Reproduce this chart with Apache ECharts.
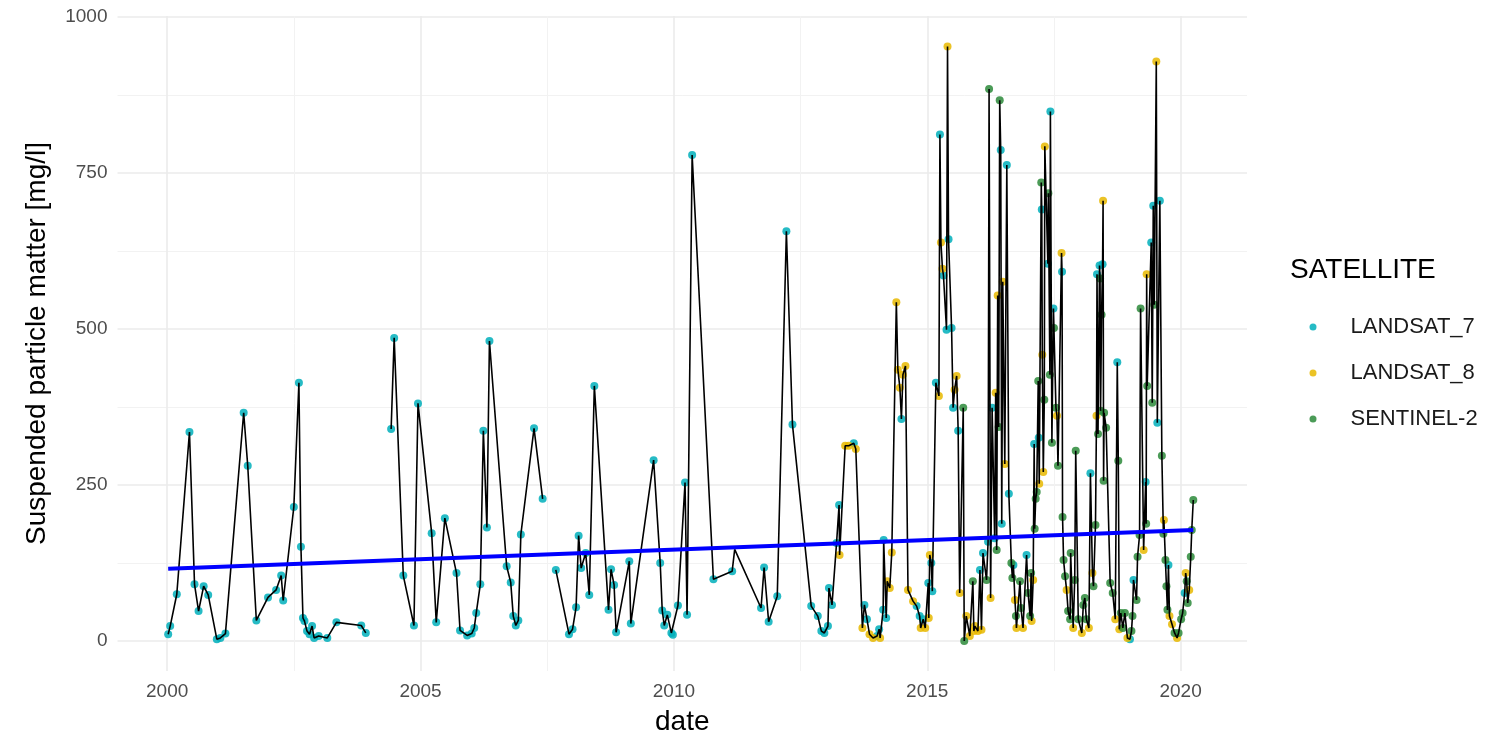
<!DOCTYPE html>
<html>
<head>
<meta charset="UTF-8">
<title>SPM</title>
<script src="https://cdn.jsdelivr.net/npm/echarts@6/dist/echarts.min.js"></script>
<style>
  html, body { margin: 0; padding: 0; background: #fff; }
  #chart { width: 1506px; height: 741px; }
</style>
</head>
<body>
<div id="chart"></div>
<script>
// decimal year, value [mg/l], satellite ('L7','L8','S2'; '' = line vertex only)
// null value = break in the line
var dates = [
  2000.02, 2000.06, 2000.19, 2000.44, 2000.54, 2000.62, 2000.72, 2000.81, 2000.98, 2001.05,
  2001.15, 2001.51, 2001.59, 2001.76, 2001.99, 2002.15, 2002.25, 2002.29, 2002.50, 2002.60,
  2002.64, 2002.68, 2002.71, 2002.76, 2002.81, 2002.86, 2002.90, 2002.99, 2003.16, 2003.34,
  2003.83, 2003.92, 2004.20, 2004.42, 2004.48, 2004.66, 2004.87, 2004.95, 2005.22, 2005.31,
  2005.48, 2005.71, 2005.78, 2005.92, 2006.01, 2006.06, 2006.10, 2006.18, 2006.24, 2006.31,
  2006.36, 2006.70, 2006.78, 2006.83, 2006.88, 2006.93, 2006.98, 2007.24, 2007.41, 2007.55,
  2007.67, 2007.93, 2008.00, 2008.07, 2008.12, 2008.17, 2008.26, 2008.33, 2008.43, 2008.71,
  2008.76, 2008.82, 2008.86, 2009.12, 2009.15, 2009.60, 2009.73, 2009.77, 2009.81, 2009.87,
  2009.95, 2009.98, 2010.08, 2010.22, 2010.26, 2010.36, 2010.78, 2011.15, 2011.20, 2011.72,
  2011.78, 2011.87, 2012.04, 2012.22, 2012.34, 2012.71, 2012.84, 2012.91, 2012.97, 2013.04,
  2013.06, 2013.12, 2013.21, 2013.26, 2013.27, 2013.38, 2013.45, 2013.55, 2013.59, 2013.72,
  2013.76, 2013.81, 2013.86, 2013.93, 2014.01, 2014.05, 2014.07, 2014.13, 2014.14, 2014.19,
  2014.21, 2014.26, 2014.30, 2014.39, 2014.42, 2014.46, 2014.49, 2014.52, 2014.57, 2014.62,
  2014.72, 2014.79, 2014.85, 2014.87, 2014.92, 2014.96, 2015.02, 2015.03, 2015.05, 2015.08,
  2015.10, 2015.17, 2015.23, 2015.25, 2015.27, 2015.30, 2015.32, 2015.38, 2015.40, 2015.42,
  2015.48, 2015.51, 2015.54, 2015.58, 2015.61, 2015.64, 2015.71, 2015.73, 2015.77, 2015.84,
  2015.90, 2015.92, 2015.94, 2016.00, 2016.04, 2016.07, 2016.10, 2016.17, 2016.20, 2016.22,
  2016.25, 2016.28, 2016.33, 2016.35, 2016.37, 2016.39, 2016.41, 2016.43, 2016.45, 2016.47,
  2016.49, 2016.53, 2016.57, 2016.61, 2016.66, 2016.68, 2016.70, 2016.73, 2016.75, 2016.76,
  2016.83, 2016.85, 2016.89, 2016.96, 2016.99, 2017.03, 2017.05, 2017.06, 2017.09, 2017.11,
  2017.12, 2017.14, 2017.16, 2017.19, 2017.20, 2017.21, 2017.25, 2017.26, 2017.27, 2017.29,
  2017.31, 2017.32, 2017.38, 2017.39, 2017.42, 2017.43, 2017.46, 2017.49, 2017.50, 2017.54,
  2017.56, 2017.58, 2017.65, 2017.66, 2017.67, 2017.69, 2017.72, 2017.75, 2017.78, 2017.82,
  2017.83, 2017.88, 2017.91, 2017.93, 2017.98, 2018.05, 2018.08, 2018.11, 2018.14, 2018.19,
  2018.22, 2018.26, 2018.28, 2018.32, 2018.34, 2018.35, 2018.37, 2018.40, 2018.41, 2018.42,
  2018.44, 2018.46, 2018.47, 2018.48, 2018.49, 2018.53, 2018.61, 2018.66, 2018.71, 2018.75,
  2018.77, 2018.79, 2018.82, 2018.86, 2018.90, 2018.95, 2019.00, 2019.03, 2019.05, 2019.07,
  2019.13, 2019.15, 2019.19, 2019.21, 2019.27, 2019.31, 2019.32, 2019.33, 2019.34, 2019.42,
  2019.44, 2019.46, 2019.48, 2019.52, 2019.54, 2019.59, 2019.63, 2019.66, 2019.67, 2019.70,
  2019.72, 2019.74, 2019.76, 2019.78, 2019.83, 2019.88, 2019.93, 2019.96, 2020.01, 2020.04,
  2020.08, 2020.10, 2020.12, 2020.14, 2020.17, 2020.20, 2020.22, 2020.25
];
var values = [
  11, 24, 75, 335, 91, 48, 88, 74, 3, 5,
  12, 366, 281, 33, 70, 82, 105, 65, 215, 414,
  151, 37, 32, 16, 11, 24, 5, 8, 5, 30,
  25, 13, null, 340, 486, 105, 25, 381, 173, 30,
  197, 109, 17, 9, 12, 21, 45, 91, 337, 182,
  481, 120, 94, 40, 25, 33, 171, 341, 228, null,
  114, 11, 19, 54, 169, 117, 141, 74, 409, 50,
  115, 90, 14, 128, 28, 290, 125, 49, 25, 42,
  13, 10, 57, 254, 42, 779, 99, 112, 147, 53,
  118, 31, 72, 657, 347, 56, 40, 16, 13, 24,
  85, 58, 157, 218, 138, 313, 313, 317, 308, 21,
  58, 35, 11, 5, 8, 19, 5, 50, 162, 37,
  96, 85, 142, 543, 435, 406, 356, 427, 441, 82,
  64, 56, 40, 21, 35, 21, 93, 37, 138, 125,
  80, 414, 393, 812, 639, 597, 586, 499, 953, 644,
  502, 374, 403, 425, 337, 77, 374, 0, 40, 8,
  96, 16, 24, 16, 114, 18, 141, 98, 159, 885,
  69, 374, 165, 398, 146, 554, 343, 867, 787, 188,
  576, 284, 763, 236, 125, 101, 122, 66, 40, 21,
  96, 53, 21, 138, 77, 40, 109, 32, 98, 316,
  180, 228, 239, 417, 326, 252, 735, 692, 459, 271,
  387, 793, 605, 718, 427, 849, 318, 533, 502, 374,
  361, 281, 622, 592, 199, 130, 104, 82, 48, 35,
  141, 21, 98, 305, 35, 13, 58, 69, 35, 21,
  269, 109, 88, 186, 361, 588, 332, 602, 581, 369,
  523, 604, 706, 257, 366, 342, 93, 77, 35, 447,
  289, 19, 45, 21, 45, 5, 3, 16, 40, 98,
  66, 135, 170, 533, 146, 255, 188, 588, 409, 639,
  382, 698, 539, 929, 350, 706, 297, 172, 194, 130,
  88, 50, 122, 40, 27, 13, 5, 13, 35, 45,
  77, 109, 96, 61, 82, 135, 178, 226
];
var sats = [
  'L7','L7','L7','L7','L7','L7','L7','L7','L7','L7',
  'L7','L7','L7','L7','L7','L7','L7','L7','L7','L7',
  'L7','L7','L7','L7','L7','L7','L7','L7','L7','L7',
  'L7','L7','',  'L7','L7','L7','L7','L7','L7','L7',
  'L7','L7','L7','L7','L7','L7','L7','L7','L7','L7',
  'L7','L7','L7','L7','L7','L7','L7','L7','L7','',
  'L7','L7','L7','L7','L7','L7','L7','L7','L7','L7',
  'L7','L7','L7','L7','L7','L7','L7','L7','L7','L7',
  'L7','L7','L7','L7','L7','L7','L7','L7','',  'L7',
  'L7','L7','L7','L7','L7','L7','L7','L7','L7','L7',
  'L7','L7','L7','L7','L8','L8','L8','L7','L8','L8',
  'L7','L7','L8','L8','L7','L7','L8','L7','L7','L7',
  'L8','L8','L8','L8','L8','L8','L7','L8','L8','L8',
  'L8','L7','L7','L8','L7','L8','L7','L8','L8','L7',
  'L7','L7','L8','L7','L8','L8','L7','L7','L8','L7',
  'L7','L7','L8','L8','L7','L8','S2','S2','L8','L8',
  'S2','L8','L8','L8','L7','L8','L7','S2','L7','S2',
  'L8','L7','L7','L8','S2','L8','S2','S2','L7','L7',
  'L8','L8','L7','L7','S2','S2','L7','L8','S2','L8',
  'S2','S2','L8','L7','S2','S2','S2','L8','L8','L7',
  'S2','S2','S2','S2','L7','L8','S2','L7','L8','L8',
  'S2','L8','L7','S2','S2','L7','S2','L7','S2','S2',
  'L8','S2','L8','L7','S2','S2','S2','L8','S2','S2',
  'S2','L8','S2','S2','S2','L8','S2','S2','S2','L8',
  'L7','L8','S2','S2','L8','L7','S2','L7','S2','S2',
  'S2','L7','L8','S2','S2','S2','S2','S2','L8','L7',
  'S2','L8','S2','S2','S2','L8','L7','S2','S2','L7',
  'S2','S2','S2','S2','L8','L7','S2','L8','S2','L7',
  'S2','L7','S2','L8','L7','L7','S2','S2','L8','S2',
  'S2','S2','L7','L8','L8','S2','L8','S2','S2','S2',
  'L7','L8','S2','S2','L8','S2','S2','S2'
];

var satCodes = ['L7', 'L8', 'S2'];
var satNames = ['LANDSAT_7', 'LANDSAT_8', 'SENTINEL-2'];
var satColors = ['#00AFBB', '#E7B800', '#2C8A3A'];

// linear trend (start / end)
var trendDates = [2000.02, 2020.25];
var trendValues = [116, 178];

var xMajor = [2000, 2005, 2010, 2015, 2020];
var xMinor = [2002.5, 2007.5, 2012.5, 2017.5];
var yMajor = [0, 250, 500, 750, 1000];
var yMinor = [125, 375, 625, 875];

var font = 'Liberation Sans';
var xMin = 1999.02, xMax = 2021.31, yMin = -48, yMax = 1002;

function plain(v) { return String(v); }

var lineData = dates.map(function (d, i) { return [d, values[i]]; });

var series = satCodes.map(function (code, k) {
  var pts = [];
  for (var i = 0; i < dates.length; i++) {
    if (sats[i] === code && values[i] != null) pts.push([dates[i], values[i]]);
  }
  return {
    name: satNames[k],
    type: 'scatter',
    data: pts,
    symbolSize: 8,
    itemStyle: { color: satColors[k], opacity: 0.85 },
    z: 2
  };
});

series.push({
  name: 'spm',
  type: 'line',
  data: lineData,
  connectNulls: false,
  showSymbol: false,
  lineStyle: { color: '#000', width: 1.6 },
  itemStyle: { color: '#000' },
  z: 3
});

series.push({
  name: 'trend',
  type: 'line',
  data: trendDates.map(function (d, i) { return [d, trendValues[i]]; }),
  showSymbol: false,
  lineStyle: { color: '#0000FF', width: 4 },
  itemStyle: { color: '#0000FF' },
  z: 4
});

var chart = echarts.init(document.getElementById('chart'));
chart.setOption({
  animation: false,
  backgroundColor: '#fff',
  grid: { left: 117.5, right: 259, top: 16, bottom: 66 },
  title: {
    text: 'SATELLITE',
    left: 1285,
    top: 251,
    textStyle: { fontFamily: font, fontSize: 28, fontWeight: 'normal', color: '#000' }
  },
  legend: {
    data: satNames,
    orient: 'vertical',
    left: 1304.5,
    top: 309,
    icon: 'circle',
    itemWidth: 7,
    itemHeight: 7,
    itemGap: 20,
    textStyle: { fontFamily: font, fontSize: 22, color: '#1a1a1a', lineHeight: 26, padding: [0, 0, 0, 29] }
  },
  xAxis: [{
    type: 'value',
    min: xMin,
    max: xMax,
    name: 'date',
    nameLocation: 'middle',
    nameGap: 37,
    nameTextStyle: { fontFamily: font, fontSize: 28, color: '#000' },
    axisLine: { show: false },
    axisTick: { show: false, customValues: xMajor },
    axisLabel: { customValues: xMajor, formatter: plain, fontFamily: font, fontSize: 19, color: '#4D4D4D', margin: 11 },
    splitLine: { show: true, lineStyle: { color: '#EBEBEB', width: 1.6 } }
  }, {
    type: 'value',
    min: xMin,
    max: xMax,
    position: 'bottom',
    axisLine: { show: false },
    axisTick: { show: false, customValues: xMinor },
    axisLabel: { show: false, customValues: xMinor },
    splitLine: { show: true, lineStyle: { color: '#F2F2F2', width: 1 } }
  }],
  yAxis: [{
    type: 'value',
    min: yMin,
    max: yMax,
    name: 'Suspended particle matter [mg/l]',
    nameLocation: 'middle',
    nameRotate: 90,
    nameGap: 66,
    nameTextStyle: { fontFamily: font, fontSize: 28, color: '#000' },
    axisLine: { show: false },
    axisTick: { show: false, customValues: yMajor },
    axisLabel: { customValues: yMajor, formatter: plain, fontFamily: font, fontSize: 19, color: '#4D4D4D', margin: 10 },
    splitLine: { show: true, lineStyle: { color: '#EBEBEB', width: 1.6 } }
  }, {
    type: 'value',
    min: yMin,
    max: yMax,
    position: 'left',
    axisLine: { show: false },
    axisTick: { show: false, customValues: yMinor },
    axisLabel: { show: false, customValues: yMinor },
    splitLine: { show: true, lineStyle: { color: '#F2F2F2', width: 1 } }
  }],
  series: series
});
</script>
</body>
</html>
